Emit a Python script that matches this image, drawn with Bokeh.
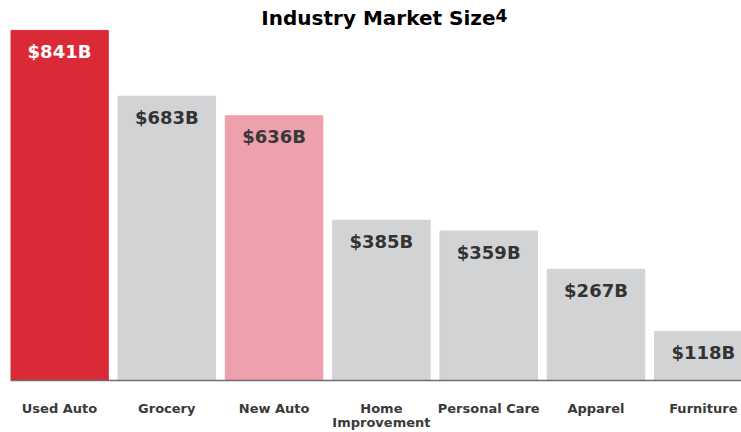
from bokeh.plotting import figure
from bokeh.models import Range1d, FixedTicker, Label, ColumnDataSource
from bokeh.core.properties import value
from bokeh.embed import file_html
from bokeh.resources import INLINE

# ---- data ----
categories = ["Used Auto", "Grocery", "New Auto", "Home\nImprovement",
              "Personal Care", "Apparel", "Furniture"]
market_size = [841, 683, 636, 385, 359, 267, 118]   # $ billions
value_labels = [f"${v}B" for v in market_size]
title_text = "Industry Market Size"
footnote_mark = "4"

# ---- styles ----
RED, GRAY, PINK = "#da2a37", "#d2d3d5", "#eea1ac"
bar_colors = [RED, GRAY, PINK, GRAY, GRAY, GRAY, GRAY]
text_colors = ["#ffffff", "#333333", "#383838", "#333333", "#333333", "#333333", "#333333"]
FONT = "DejaVu Sans"

xs = list(range(len(categories)))
src = ColumnDataSource(dict(x=xs, top=market_size, color=bar_colors,
                            label=value_labels, tcolor=text_colors))

# frame: 731 px wide (screen 10..741), 381 px tall (screen 0..381); 841 sits at screen y=30
p = figure(width=741, height=432, output_backend="svg", toolbar_location=None,
           x_range=Range1d(-0.4567, 6.356), y_range=Range1d(0, 841 * 381 / 351),
           min_border_left=10, min_border_right=0, min_border_top=0,
           min_border_bottom=51)
p.outline_line_color = None
p.background_fill_color = "white"
p.border_fill_color = "white"
p.xgrid.visible = False
p.ygrid.visible = False
p.yaxis.visible = False

p.vbar(x="x", top="top", bottom=0, width=0.909, color="color", source=src)

p.text(x="x", y="top", text="label", source=src, text_color="tcolor",
       text_font=value(FONT), text_font_style="bold", text_font_size="18px",
       text_align="center", text_baseline="middle", y_offset=21)

ax = p.xaxis[0]
ax.ticker = FixedTicker(ticks=xs)
ax.major_label_overrides = {i: c for i, c in zip(xs, categories)}
ax.major_tick_in = 0
ax.major_tick_out = 0
ax.minor_tick_in = 0
ax.minor_tick_out = 0
ax.axis_line_color = "#6e6e6e"
ax.axis_line_width = 1.5
ax.major_label_standoff = 20
ax.major_label_text_font = FONT
ax.major_label_text_font_style = "bold"
ax.major_label_text_font_size = "13px"
ax.major_label_text_color = "#3a3a3a"
ax.major_label_text_line_height = 0.95

p.add_layout(Label(x=485, y=363, x_units="screen", y_units="screen", text=title_text,
                   text_font=FONT, text_font_style="bold", text_font_size="20px",
                   text_color="#000000", text_align="right", text_baseline="alphabetic"))
p.add_layout(Label(x=485, y=365, x_units="screen", y_units="screen", text=footnote_mark,
                   text_font=FONT, text_font_style="bold", text_font_size="17px",
                   text_color="#000000", text_align="left", text_baseline="alphabetic"))

open("out.html", "w").write(file_html(p, INLINE))
